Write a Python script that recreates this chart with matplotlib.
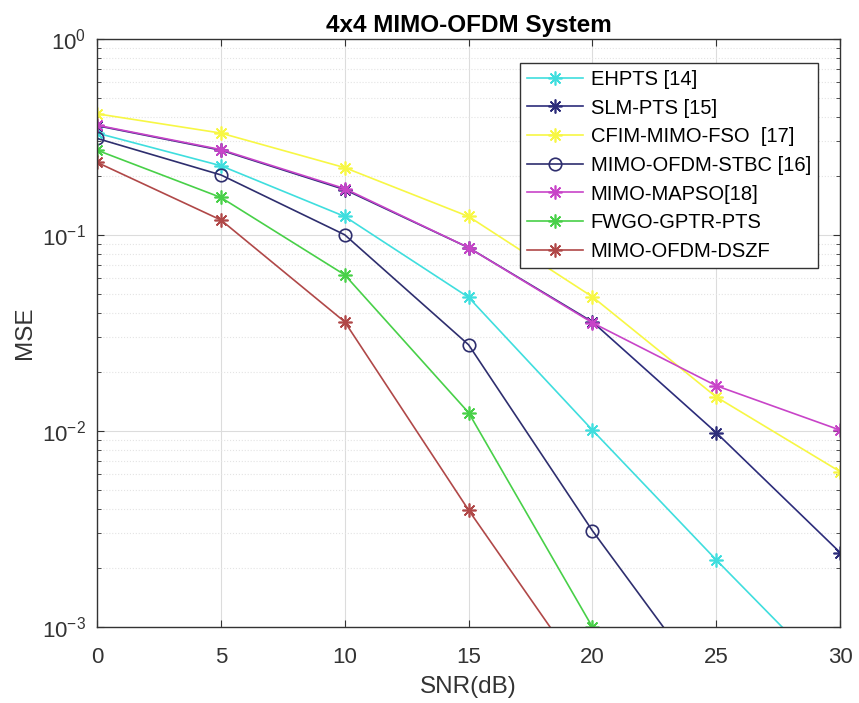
import matplotlib
matplotlib.use('Agg')
import matplotlib.pyplot as plt

plt.rcParams['font.family'] = ['Liberation Sans', 'DejaVu Sans']

snr = [0, 5, 10, 15, 20, 25, 30]

# MSE values (points below 1e-3 are outside the view)
ehpts = [0.33, 0.225, 0.124, 0.048, 0.0101, 0.0022, 0.0005]
slm_pts = [0.36, 0.27, 0.17, 0.086, 0.036, 0.0098, 0.0024]
cfim = [0.414, 0.33, 0.22, 0.124, 0.0483, 0.0149, 0.0062]
stbc = [0.31, 0.202, 0.1, 0.0275, 0.0031, 0.00043, 0.00005]
mapso = [0.362, 0.272, 0.172, 0.086, 0.0356, 0.017, 0.0101]
fwgo = [0.27, 0.155, 0.0625, 0.0124, 0.001, 0.00008, 0.00001]
dszf = [0.234, 0.119, 0.036, 0.00395, 0.00049, 0.00005, 0.000005]

labels = ['EHPTS [14]', 'SLM-PTS [15]', 'CFIM-MIMO-FSO  [17]',
          'MIMO-OFDM-STBC [16]', 'MIMO-MAPSO[18]', 'FWGO-GPTR-PTS',
          'MIMO-OFDM-DSZF']
series = [ehpts, slm_pts, cfim, stbc, mapso, fwgo, dszf]
colors = ['#3fdede', '#2c2c7a', '#f7f744', '#2e2e6e', '#c844c8',
          '#48d048', '#b04848']
asterisk = (8, 2, 0)
markers = [asterisk, asterisk, asterisk, 'o', asterisk, asterisk, asterisk]

fig = plt.figure(figsize=(8.59, 7.03), dpi=100)
ax = fig.add_axes([0.113, 0.108, 0.865, 0.837])

for vals, lab, col, mk in zip(series, labels, colors, markers):
    ax.semilogy(snr, vals, color=col, marker=mk, markersize=10 if mk != 'o' else 9,
                markerfacecolor='none' if mk == 'o' else col,
                markeredgewidth=1.2, linewidth=1.2, label=lab)

ax.set_xlim(0, 30)
ax.set_ylim(1e-3, 1)
ax.set_xticks([0, 5, 10, 15, 20, 25, 30])

ax.grid(True, which='major', color='#dcdcdc', linewidth=0.8)
ax.grid(True, which='minor', axis='y', color='#e4e4e4', linestyle=':', linewidth=0.8)
ax.set_axisbelow(True)

ax.tick_params(which='both', direction='in', top=True, right=True,
               colors='#333333', labelcolor='#333333', labelsize=16)
ax.tick_params(which='major', length=5)
ax.tick_params(which='minor', length=3)
ax.tick_params(axis='x', pad=14)
ax.tick_params(axis='y', pad=8)
for s in ax.spines.values():
    s.set_color('#333333')
    s.set_linewidth(1.0)

ax.set_xlabel('SNR(dB)', fontsize=17.5, color='#333333', labelpad=6)
ax.set_ylabel('MSE', fontsize=17.5, color='#333333', labelpad=4)
ax.set_title('4x4 MIMO-OFDM System', fontsize=17.5, fontweight='bold', pad=5)

leg = ax.legend(loc='upper right', bbox_to_anchor=(0.970, 0.959),
                borderaxespad=0, fontsize=14.5, fancybox=False, framealpha=1,
                edgecolor='#333333', handlelength=2.8, labelspacing=0.48,
                borderpad=0.35, handletextpad=0.35)
leg.get_frame().set_linewidth(1.0)

fig.savefig('out.png', dpi=100)
